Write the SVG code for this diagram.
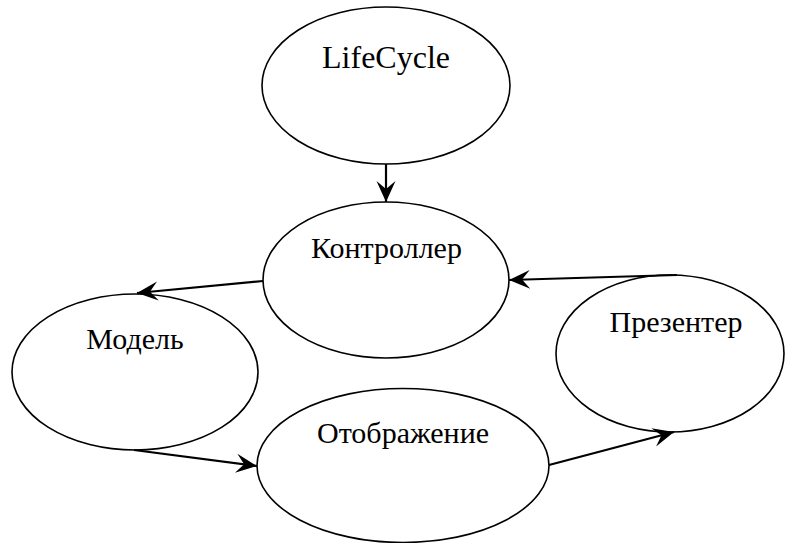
<svg xmlns="http://www.w3.org/2000/svg" width="785" height="543" viewBox="0 0 785 543">
<style>
.node ellipse{fill:#fff;stroke:#000;stroke-width:1.6}
.node text{font-family:"Liberation Serif","Times New Roman",serif;font-size:30px;fill:#000;text-anchor:middle}
.edge{stroke:#000;stroke-width:2.2;fill:none;marker-end:url(#ah)}
</style>
<defs>
<marker id="ah" markerUnits="userSpaceOnUse" markerWidth="24" markerHeight="22" viewBox="-22 -11 24 22" refX="0" refY="0" orient="auto">
<path d="M0,0 L-21,-9.5 L-13,0 L-21,9.5 Z" fill="#000"/>
</marker>
</defs>
<rect width="785" height="543" fill="#fff"/>
<g id="lifecycle" class="node"><ellipse cx="386" cy="85.5" rx="124" ry="78.5"/><text x="386" y="68" style="font-size:32px">LifeCycle</text></g>
<g id="controller" class="node"><ellipse cx="386" cy="280" rx="123" ry="78"/><text x="386.5" y="258">Контроллер</text></g>
<g id="model" class="node"><ellipse cx="135" cy="372" rx="123" ry="78"/><text x="135" y="349">Модель</text></g>
<g id="view" class="node"><ellipse cx="403" cy="465.5" rx="146" ry="77"/><text x="403" y="443">Отображение</text></g>
<g id="presenter" class="node"><ellipse cx="670" cy="353.5" rx="114" ry="78.5"/><text x="676" y="332">Презентер</text></g>
<g id="connectors">
<line class="edge" x1="386" y1="164" x2="386" y2="202"/>
<line class="edge" x1="263" y1="281" x2="137" y2="293"/>
<line class="edge" x1="134" y1="450" x2="257" y2="466"/>
<line class="edge" x1="549" y1="465" x2="674" y2="432"/>
<line class="edge" x1="677" y1="275" x2="509" y2="280"/>
</g>
</svg>
